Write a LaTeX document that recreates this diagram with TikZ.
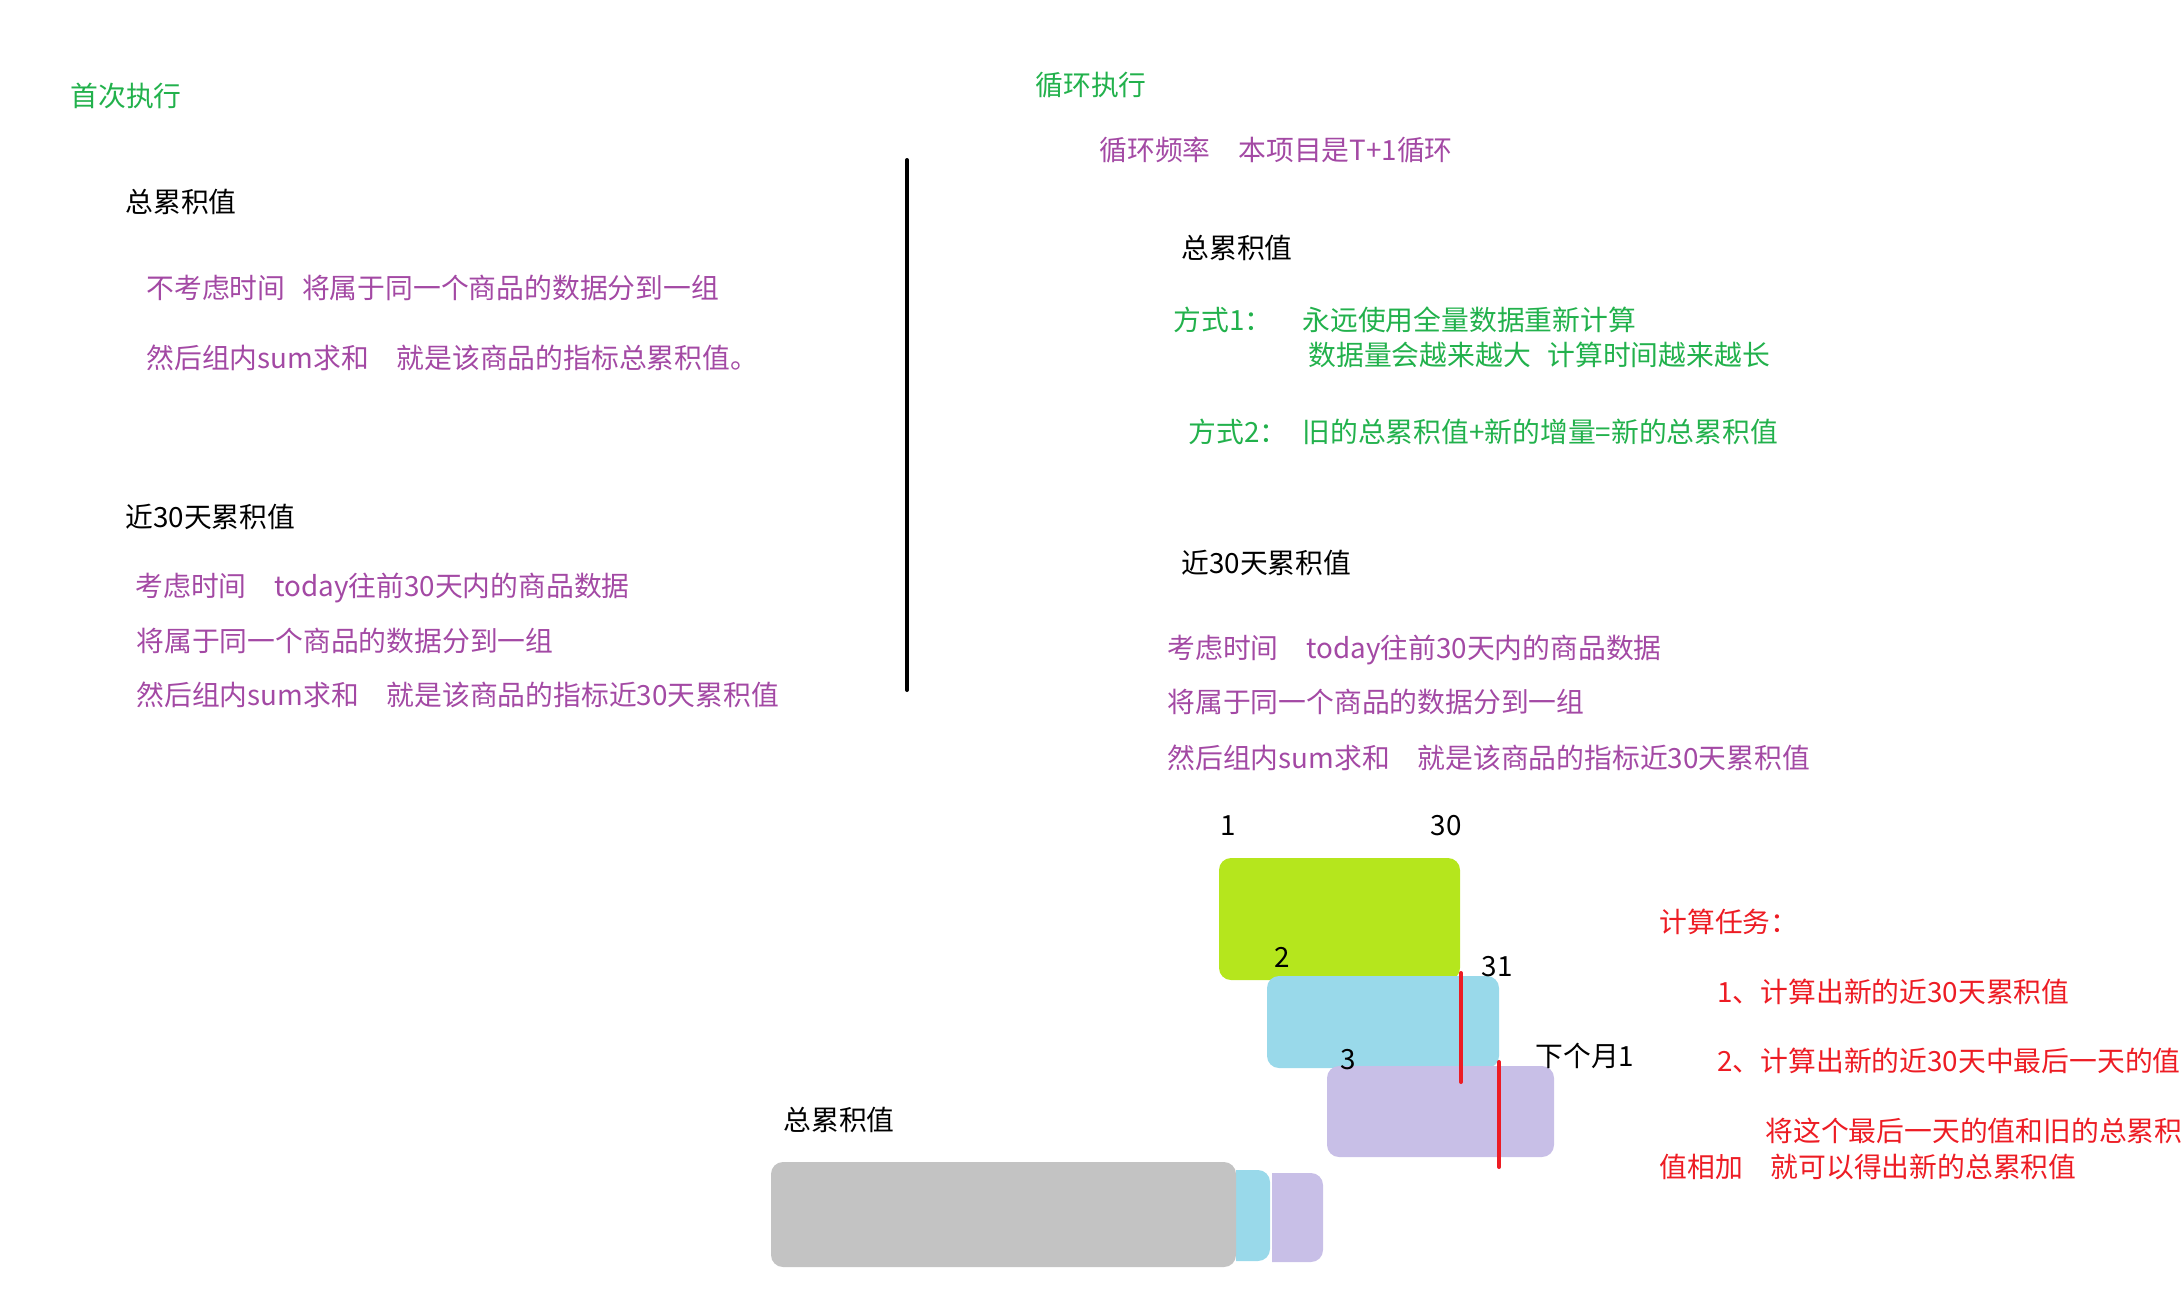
\documentclass[tikz,border=0pt]{standalone}
\usepackage{fontspec}
\setmainfont{Noto Sans CJK SC}
\definecolor{paintGreen}{HTML}{22B14C}
\definecolor{paintPurple}{HTML}{A349A4}
\definecolor{paintRed}{HTML}{ED1C24}
\definecolor{boxLime}{HTML}{B5E61D}
\definecolor{boxBlue}{HTML}{99D9EA}
\definecolor{boxLavender}{HTML}{C8BFE7}
\definecolor{boxGray}{HTML}{C3C3C3}
\tikzset{%
  % Specifications for style of texts:
        base/.style = {anchor=west, inner sep=0pt,
                       font=\fontsize{13.9}{16}\selectfont},
     heading/.style = {base, text=black},
   greenText/.style = {base, text=paintGreen},
  purpleText/.style = {base, text=paintPurple},
     redText/.style = {base, text=paintRed},
    dayLabel/.style = {base, anchor=center},
  % Specifications for style of blocks and marks:
       block/.style = {rounded corners=6pt},
     divider/.style = {line width=2pt, line cap=round},
    redMark/.style = {draw=paintRed, line width=2pt, line cap=round},
}
\begin{document}
\begin{tikzpicture}[x=0.5pt, y=-0.5pt]
  \useasboundingbox (0,0) rectangle (2184,1296);

  % Left side: first run
  \node (firstRun)    [greenText]  at (70,96)   {首次执行};
  \node (totalLeft)   [heading]    at (125,202) {总累积值};
  \node (totalL1)     [purpleText] at (146,288) {不考虑时间\hspace{0.6em}将属于同一个商品的数据分到一组};
  \node (totalL2)     [purpleText] at (146,358) {然后组内sum求和\hspace{1em}就是该商品的指标总累积值。};
  \node (monthLeft)   [heading]    at (125,517) {近30天累积值};
  \node (monthL1)     [purpleText] at (135,588) {考虑时间\hspace{1em}today往前30天内的商品数据};
  \node (monthL2)     [purpleText] at (136,641) {将属于同一个商品的数据分到一组};
  \node (monthL3)     [purpleText] at (136,695) {然后组内sum求和\hspace{1em}就是该商品的指标近30天累积值};

  % divider between both parts
  \coordinate (dividerTop)    at (907,160);
  \coordinate (dividerBottom) at (907,690);
  \draw[divider] (dividerTop) -- (dividerBottom);

  % Right side: loop run
  \node (loopRun)     [greenText]  at (1035,85)  {循环执行};
  \node (loopFreq)    [purpleText] at (1099,150) {循环频率\hspace{1em}本项目是T+1循环};
  \node (totalRight)  [heading]    at (1181,248) {总累积值};
  \node (wayOne)      [greenText]  at (1173,320) {方式1：};
  \node (wayOneA)     [greenText]  at (1302,320) {永远使用全量数据重新计算};
  \node (wayOneB)     [greenText]  at (1308,355) {数据量会越来越大\hspace{0.6em}计算时间越来越长};
  \node (wayTwo)      [greenText]  at (1188,432) {方式2：};
  \node (wayTwoA)     [greenText]  at (1302,432) {旧的总累积值+新的增量=新的总累积值};
  \node (monthRight)  [heading]    at (1181,563) {近30天累积值};
  \node (monthR1)     [purpleText] at (1167,650) {考虑时间\hspace{1em}today往前30天内的商品数据};
  \node (monthR2)     [purpleText] at (1167,702) {将属于同一个商品的数据分到一组};
  \node (monthR3)     [purpleText] at (1167,758) {然后组内sum求和\hspace{1em}就是该商品的指标近30天累积值};

  % sliding 30 day windows
  \fill[block, boxLime]     (1219,858)  rectangle (1460,980);
  \fill[block, boxBlue]     (1267,976)  rectangle (1499,1068);
  \fill[block, boxLavender] (1327,1066) rectangle (1554,1157);

  \node (dayOne)      [dayLabel] at (1228,826)  {1};
  \node (dayThirty)   [dayLabel] at (1446,826)  {30};
  \node (dayTwo)      [dayLabel] at (1282,957)  {2};
  \node (dayThirtyOne)[dayLabel] at (1497,967)  {31};
  \node (dayThree)    [dayLabel] at (1348,1060) {3};
  \node (nextMonth)   [heading]  at (1535,1056) {下个月1};

  \coordinate (cutOneTop)    at (1461,973);
  \coordinate (cutOneBottom) at (1461,1082);
  \coordinate (cutTwoTop)    at (1499,1062);
  \coordinate (cutTwoBottom) at (1499,1167);
  \draw[redMark] (cutOneTop) -- (cutOneBottom);
  \draw[redMark] (cutTwoTop) -- (cutTwoBottom);

  % total value bar with the daily increments
  \node (totalBottom) [heading] at (783,1120) {总累积值};
  \begin{scope}
    \clip (1236,1150) rectangle (1271,1280);
    \fill[block, boxBlue] (1200,1170) rectangle (1270,1261);
  \end{scope}
  \begin{scope}
    \clip (1272,1150) rectangle (1340,1280);
    \fill[block, boxLavender] (1240,1173) rectangle (1323,1262);
  \end{scope}
  \fill[block, boxGray] (771,1162) rectangle (1236,1267);

  % computing tasks
  \node (task)        [redText] at (1659,922)  {计算任务：};
  \node (taskOne)     [redText] at (1717,992)  {1、计算出新的近30天累积值};
  \node (taskTwo)     [redText] at (1717,1061) {2、计算出新的近30天中最后一天的值};
  \node (taskTwoA)    [redText] at (1765,1131) {将这个最后一天的值和旧的总累积};
  \node (taskTwoB)    [redText] at (1659,1167) {值相加\hspace{1em}就可以得出新的总累积值};
\end{tikzpicture}
\end{document}
